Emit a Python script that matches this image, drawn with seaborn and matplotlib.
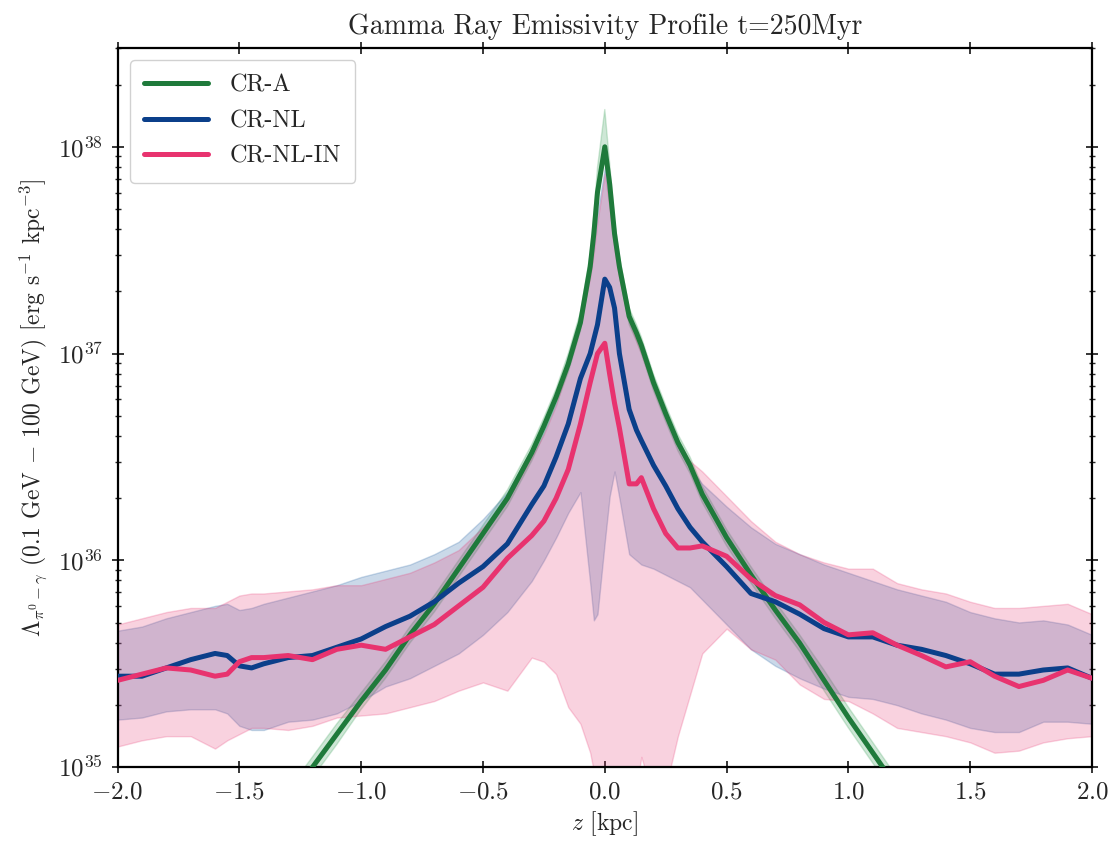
import numpy as np
import matplotlib
matplotlib.use("Agg")
import matplotlib.pyplot as plt
import seaborn as sns
from matplotlib.ticker import LogLocator, NullFormatter, MultipleLocator

# ---- data (log10 of emissivity, erg s^-1 kpc^-3) ----
z = [-2.0, -1.9, -1.8, -1.7, -1.6, -1.55, -1.5, -1.45, -1.4, -1.3, -1.2, -1.1, -1.0,
     -0.9, -0.8, -0.7, -0.6, -0.5, -0.4, -0.3, -0.25, -0.2, -0.15, -0.1, -0.06,
     -0.045, -0.03, 0.0, 0.02, 0.04, 0.06, 0.1, 0.13, 0.15, 0.2, 0.25, 0.3, 0.35,
     0.4, 0.5, 0.6, 0.7, 0.8, 0.9, 1.0, 1.1, 1.2, 1.3, 1.4, 1.5, 1.6, 1.7, 1.8,
     1.9, 2.0]

cra = [33.75, 33.90, 34.05, 34.20, 34.36, 34.44, 34.52, 34.60, 34.68, 34.84, 35.00,
       35.16, 35.32, 35.47, 35.64, 35.79, 35.96, 36.13, 36.30, 36.52, 36.65, 36.79,
       36.95, 37.15, 37.42, 37.58, 37.78, 38.00, 37.82, 37.58, 37.42, 37.18, 37.10,
       37.04, 36.86, 36.71, 36.57, 36.46, 36.32, 36.11, 35.93, 35.76, 35.60, 35.42,
       35.24, 35.07, 34.90, 34.73, 34.56, 34.39, 34.22, 34.05, 33.88, 33.71, 33.55]
cra_lo = [33.70, 33.85, 34.00, 34.15, 34.31, 34.39, 34.47, 34.55, 34.63, 34.79, 34.95,
          35.11, 35.28, 35.43, 35.60, 35.75, 35.92, 36.09, 36.26, 36.48, 36.61, 36.75,
          36.91, 37.11, 37.38, 37.54, 37.74, 37.95, 37.78, 37.54, 37.38, 37.14, 37.06,
          37.00, 36.82, 36.67, 36.53, 36.42, 36.28, 36.07, 35.89, 35.72, 35.56, 35.37,
          35.19, 35.02, 34.85, 34.68, 34.51, 34.34, 34.17, 34.00, 33.83, 33.66, 33.50]
cra_hi = [33.80, 33.95, 34.10, 34.25, 34.41, 34.49, 34.57, 34.65, 34.73, 34.89, 35.05,
          35.21, 35.36, 35.51, 35.68, 35.83, 36.00, 36.17, 36.34, 36.56, 36.69, 36.83,
          37.00, 37.20, 37.48, 37.67, 37.90, 38.18, 37.92, 37.64, 37.47, 37.22, 37.14,
          37.08, 36.90, 36.75, 36.61, 36.50, 36.36, 36.15, 35.97, 35.80, 35.64, 35.47,
          35.29, 35.12, 34.95, 34.78, 34.61, 34.44, 34.27, 34.10, 33.93, 33.76, 33.60]

crnl = [35.44, 35.44, 35.48, 35.52, 35.55, 35.54, 35.49, 35.48, 35.50, 35.53, 35.54,
        35.58, 35.62, 35.68, 35.73, 35.80, 35.89, 35.97, 36.08, 36.27, 36.36, 36.50,
        36.66, 36.88, 37.00, 37.07, 37.14, 37.36, 37.32, 37.22, 37.00, 36.73, 36.63,
        36.58, 36.46, 36.36, 36.25, 36.16, 36.09, 35.97, 35.84, 35.80, 35.74, 35.67,
        35.63, 35.63, 35.59, 35.57, 35.54, 35.50, 35.45, 35.45, 35.47, 35.48, 35.43]
crnl_lo = [35.23, 35.24, 35.27, 35.28, 35.28, 35.26, 35.20, 35.18, 35.18, 35.22, 35.23,
           35.26, 35.32, 35.39, 35.43, 35.49, 35.55, 35.64, 35.75, 35.90, 36.00, 36.11,
           36.23, 36.33, 35.89, 35.71, 35.74, 36.09, 36.31, 36.43, 36.30, 36.03, 36.00,
           35.98, 35.96, 35.93, 35.90, 35.87, 35.81, 35.69, 35.57, 35.49, 35.43, 35.38,
           35.34, 35.33, 35.30, 35.26, 35.23, 35.19, 35.17, 35.17, 35.22, 35.22, 35.21]
crnl_hi = [35.66, 35.68, 35.72, 35.75, 35.78, 35.79, 35.76, 35.77, 35.79, 35.82, 35.85,
           35.88, 35.92, 35.95, 35.98, 36.03, 36.09, 36.20, 36.33, 36.54, 36.65, 36.79,
           36.99, 37.18, 37.40, 37.52, 37.68, 37.90, 37.72, 37.52, 37.38, 37.17, 37.08,
           37.02, 36.85, 36.70, 36.55, 36.45, 36.37, 36.26, 36.16, 36.08, 36.03, 35.98,
           35.94, 35.90, 35.86, 35.83, 35.80, 35.75, 35.72, 35.70, 35.71, 35.69, 35.64]

crnlin = [35.42, 35.45, 35.48, 35.47, 35.44, 35.45, 35.51, 35.53, 35.53, 35.54, 35.52,
          35.57, 35.59, 35.57, 35.63, 35.69, 35.78, 35.87, 36.01, 36.12, 36.19, 36.30,
          36.44, 36.66, 36.86, 36.93, 37.00, 37.05, 36.90, 36.76, 36.64, 36.37, 36.37,
          36.40, 36.25, 36.13, 36.06, 36.06, 36.07, 36.02, 35.91, 35.83, 35.785, 35.70,
          35.64, 35.65, 35.59, 35.54, 35.485, 35.51, 35.44, 35.39, 35.42, 35.47, 35.43]
crnlin_lo = [35.10, 35.13, 35.15, 35.15, 35.09, 35.13, 35.16, 35.19, 35.19, 35.18, 35.20,
             35.24, 35.25, 35.26, 35.29, 35.32, 35.37, 35.41, 35.37, 35.53, 35.51, 35.45,
             35.29, 35.21, 35.07, 34.98, 34.80, 34.60, 34.60, 34.60, 34.70, 34.80, 34.90,
             35.05, 34.85, 34.90, 35.15, 35.35, 35.55, 35.67, 35.57, 35.52, 35.40, 35.33,
             35.32, 35.26, 35.19, 35.17, 35.15, 35.12, 35.07, 35.08, 35.12, 35.14, 35.15]
crnlin_hi = [35.69, 35.72, 35.75, 35.77, 35.77, 35.80, 35.83, 35.84, 35.84, 35.85, 35.86,
             35.88, 35.88, 35.91, 35.94, 35.99, 36.05, 36.16, 36.29, 36.50, 36.61, 36.75,
             36.95, 37.15, 37.37, 37.49, 37.64, 37.87, 37.70, 37.50, 37.36, 37.16, 37.06,
             37.00, 36.84, 36.71, 36.58, 36.48, 36.43, 36.31, 36.19, 36.09, 36.03, 35.99,
             35.96, 35.96, 35.89, 35.86, 35.84, 35.80, 35.77, 35.77, 35.78, 35.79, 35.74]

labels = ["CR-A", "CR-NL", "CR-NL-IN"]
colors = ["#1f7a3b", "#0b3f8a", "#e8336f"]
fill_colors = ["#3fa35d", "#2f6aa8", "#e8336f"]

# ---- style ----
sns.set_style("ticks")
plt.rcParams["font.family"] = ["serif"]
plt.rcParams["font.serif"] = ["cmr10", "DejaVu Serif"]
plt.rcParams["mathtext.fontset"] = "cm"
plt.rcParams["axes.formatter.use_mathtext"] = True
plt.rcParams["axes.unicode_minus"] = True

fig = plt.figure(figsize=(11.2, 8.44), dpi=100)
ax = fig.add_axes([0.105, 0.091, 0.870, 0.852])

zarr = np.array(z)
series = [(cra, cra_lo, cra_hi), (crnl, crnl_lo, crnl_hi), (crnlin, crnlin_lo, crnlin_hi)]
alphas = [0.25, 0.25, 0.22]
for (mid, lo, hi), lab, c, fc, a in zip(series, labels, colors, fill_colors, alphas):
    ax.fill_between(zarr, 10 ** np.array(lo), 10 ** np.array(hi), color=fc, alpha=a,
                    linewidth=1.0, zorder=1)
for (mid, lo, hi), lab, c in zip(series, labels, colors):
    sns.lineplot(x=zarr, y=10 ** np.array(mid), ax=ax, color=c, linewidth=3.6,
                 label=lab, zorder=3)

ax.set_yscale("log")
ax.set_xlim(-2.0, 2.0)
ax.set_ylim(1e35, 3e38)
ax.xaxis.set_major_locator(MultipleLocator(0.5))
ax.yaxis.set_major_locator(LogLocator(base=10, numticks=10))
ax.yaxis.set_minor_locator(LogLocator(base=10, subs=np.arange(2, 10), numticks=20))
ax.yaxis.set_minor_formatter(NullFormatter())
ax.tick_params(axis="both", which="major", direction="inout", length=9, width=1.3,
               top=True, right=True, labelsize=18, pad=6)
ax.tick_params(axis="y", which="minor", direction="inout", length=5, width=1.0,
               left=True, right=True)
ax.tick_params(axis="x", which="minor", bottom=False, top=False)
for s in ax.spines.values():
    s.set_linewidth(1.6)
    s.set_color("black")

ax.set_title("Gamma Ray Emissivity Profile t=250Myr", fontsize=20, pad=10)
ax.set_xlabel(r"$z$ [kpc]", fontsize=17, labelpad=4)
ax.set_ylabel(r"$\Lambda_{\pi^0-\gamma}$ (0.1 GeV $-$ 100 GeV) [erg s$^{-1}$ kpc$^{-3}$]",
              fontsize=17, labelpad=6)

leg = ax.legend(loc="upper left", fontsize=17.5, frameon=True, fancybox=True,
                handlelength=2.6, borderpad=0.6, labelspacing=0.55, handletextpad=0.9,
                borderaxespad=0.5)
leg.get_frame().set_edgecolor("#cccccc")
leg.get_frame().set_alpha(0.9)

fig.savefig("out.png", dpi=100)
